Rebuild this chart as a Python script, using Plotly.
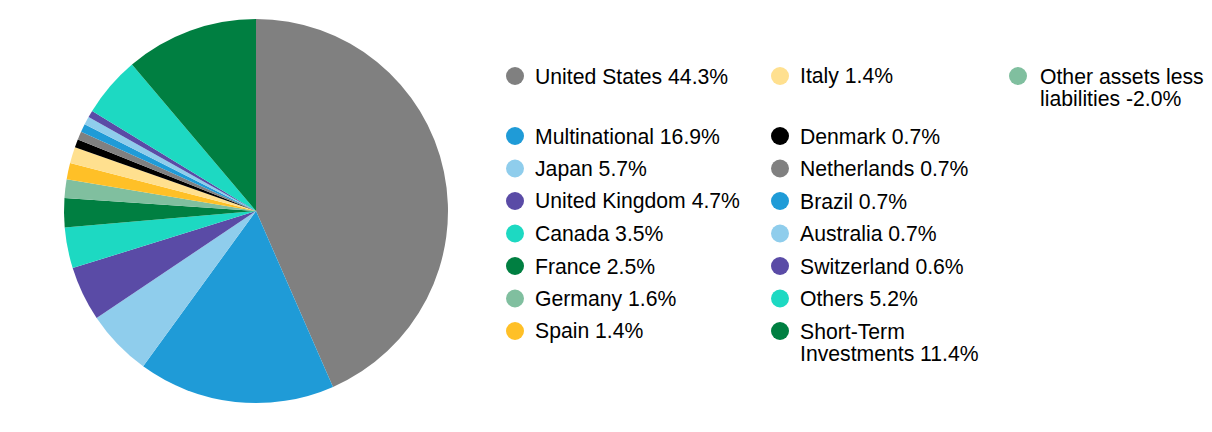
import plotly.graph_objects as go

# ---- data
countries = [
    "United States", "Multinational", "Japan", "United Kingdom", "Canada",
    "France", "Germany", "Spain", "Italy", "Denmark", "Netherlands", "Brazil",
    "Australia", "Switzerland", "Others", "Short-Term Investments",
    "Other assets less liabilities",
]
weights = [44.3, 16.9, 5.7, 4.7, 3.5, 2.5, 1.6, 1.4, 1.4, 0.7, 0.7, 0.7,
           0.7, 0.6, 5.2, 11.4, -2.0]
colors = [
    "#808080", "#1f9bd7", "#8fcdec", "#5a4ba6", "#1dd9c2", "#007f41",
    "#80bf9f", "#ffc027", "#ffe08f", "#000000", "#808080", "#1f9bd7",
    "#8fcdec", "#5a4ba6", "#1dd9c2", "#007f41", "#80bf9f",
]
# legend text, wrapped the way the reference wraps it
legend_lines = {
    "Short-Term Investments": ["Short-Term", "Investments 11.4%"],
    "Other assets less liabilities": ["Other assets less", "liabilities -2.0%"],
}
legend_columns = [
    ["United States", "Multinational", "Japan", "United Kingdom", "Canada",
     "France", "Germany", "Spain"],
    ["Italy", "Denmark", "Netherlands", "Brazil", "Australia", "Switzerland",
     "Others", "Short-Term Investments"],
    ["Other assets less liabilities"],
]

W, H = 1212, 432
OFF = 8  # page body margin in the browser
FONT = "Liberation Sans, Arial, sans-serif"

# pie only gets the positive holdings
pie_labels = [c for c, w in zip(countries, weights) if w > 0]
pie_values = [w for w in weights if w > 0]
pie_colors = [col for col, w in zip(colors, weights) if w > 0]

fig = go.Figure()
fig.add_trace(go.Pie(
    labels=pie_labels,
    values=pie_values,
    marker=dict(colors=pie_colors, line=dict(width=0)),
    sort=False,
    direction="clockwise",
    rotation=0,
    textinfo="none",
    hoverinfo="label+value",
    showlegend=False,
    domain=dict(x=[(64 - OFF) / W, (448 - OFF) / W],
                y=[1 - (403 - OFF) / H, 1 - (19 - OFF) / H]),
))

# ---- custom 3-column legend (window pixel coordinates)
col_marker_x = [515, 780, 1018]
col_text_x = [532.5, 797.5, 1037.5]
row0_y = 76
row1_y = 136
row_step = 32.5
line_step = 22.5

mx, my, mc = [], [], []
annotations = []
for ci, col in enumerate(legend_columns):
    for ri, name in enumerate(col):
        y = row0_y if ri == 0 else row1_y + (ri - 1) * row_step
        idx = countries.index(name)
        mx.append(col_marker_x[ci])
        my.append(y)
        mc.append(colors[idx])
        lines = legend_lines.get(name, [f"{name} {weights[idx]:.1f}%"])
        for li, line in enumerate(lines):
            annotations.append(dict(
                x=col_text_x[ci], y=y + li * line_step, xref="x", yref="y",
                text=line, showarrow=False, xanchor="left", yanchor="middle",
                font=dict(family=FONT, size=21.2, color="#000000"),
            ))

fig.add_trace(go.Scatter(
    x=mx, y=my, mode="markers",
    marker=dict(size=18, color=mc, line=dict(width=0)),
    hoverinfo="skip", showlegend=False,
))

fig.update_layout(
    width=W, height=H,
    margin=dict(l=0, r=0, t=0, b=0),
    paper_bgcolor="white",
    plot_bgcolor="white",
    xaxis=dict(range=[OFF, W + OFF], visible=False, domain=[0, 1], fixedrange=True),
    yaxis=dict(range=[H + OFF, OFF], visible=False, domain=[0, 1], fixedrange=True),
    annotations=annotations,
    font=dict(family=FONT),
)

fig.write_html("out.html")
